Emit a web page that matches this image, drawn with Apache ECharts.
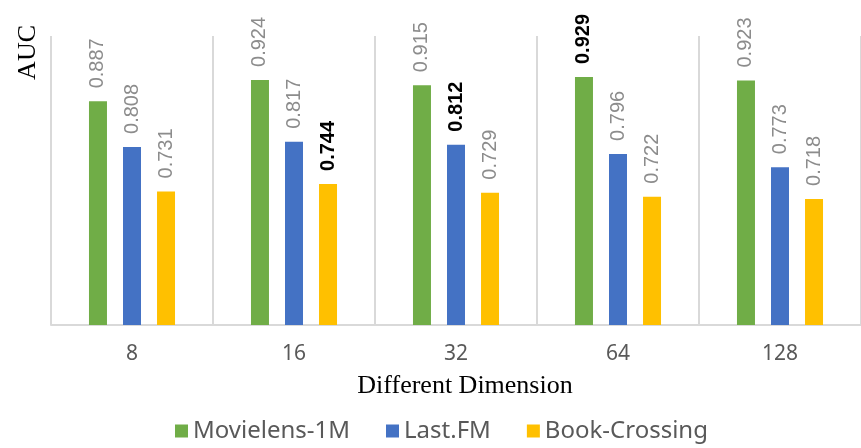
<!DOCTYPE html>
<html>
<head>
<meta charset="utf-8">
<script src="https://cdn.jsdelivr.net/npm/echarts@6/dist/echarts.min.js"></script>
<style>
  html, body { margin: 0; padding: 0; background: #fff; }
  #chart { width: 861px; height: 448px; }
</style>
</head>
<body>
<div id="chart"></div>
<script>
const dimensions = ["8", "16", "32", "64", "128"];
const seriesNames = ["Movielens-1M", "Last.FM", "Book-Crossing"];
const movielens = [0.887, 0.924, 0.915, 0.929, 0.923];
const lastfm = [0.808, 0.817, 0.812, 0.796, 0.773];
const bookCrossing = [0.731, 0.744, 0.729, 0.722, 0.718];
// index of the highlighted (bold) label in each series, as in the figure
const boldIndex = [3, 2, 1];
const colors = ["#70ad47", "#4472c4", "#ffc000"];

const chart = echarts.init(document.getElementById("chart"));

function withBold(values, idx) {
  return values.map((v, i) =>
    i === idx
      ? { value: v, label: { color: "#000", fontWeight: "bold" } }
      : v
  );
}

const allValues = [movielens, lastfm, bookCrossing];

chart.setOption({
  animation: false,
  color: colors,
  grid: { left: 51, right: -10, top: 36, bottom: 123, containLabel: false },
  legend: {
    bottom: 0,
    left: 170,
    itemWidth: 13,
    itemHeight: 13,
    itemGap: 36,
    icon: "rect",
    textStyle: { fontSize: 24, color: "#595959", fontFamily: "Noto Sans" },
    data: seriesNames,
  },
  graphic: [
    {
      type: "text",
      left: 15,
      top: 25,
      rotation: Math.PI / 2,
      style: {
        text: "AUC",
        fontSize: 26,
        fontFamily: "Liberation Serif",
        fill: "#000",
      },
    },
  ],
  xAxis: {
    type: "category",
    data: dimensions,
    name: "Different Dimension",
    nameLocation: "middle",
    nameGap: 48,
    nameTextStyle: {
      fontSize: 26,
      fontFamily: "Liberation Serif",
      color: "#000",
      padding: [0, 0, 0, 18],
    },
    axisLine: { lineStyle: { color: "#d9d9d9", width: 2 } },
    axisTick: { show: false },
    axisLabel: {
      fontSize: 21,
      color: "#595959",
      margin: 19,
      fontFamily: "Noto Sans",
    },
    splitLine: { show: true, lineStyle: { color: "#d9d9d9", width: 2 } },
  },
  yAxis: {
    type: "value",
    min: 0.5,
    max: 1.0,
    show: false,
    splitLine: { show: false },
  },
  series: seriesNames.map((name, i) => ({
    name,
    type: "bar",
    barWidth: 18,
    barGap: "89%",
    data: withBold(allValues[i], boldIndex[i]),
    label: {
      show: true,
      position: "top",
      rotate: 90,
      align: "left",
      verticalAlign: "middle",
      distance: 13,
      fontSize: 20,
      color: "#8c8c8c",
      fontFamily: "Liberation Sans",
      formatter: (p) => p.value.toFixed(3),
    },
  })),
});
</script>
</body>
</html>
